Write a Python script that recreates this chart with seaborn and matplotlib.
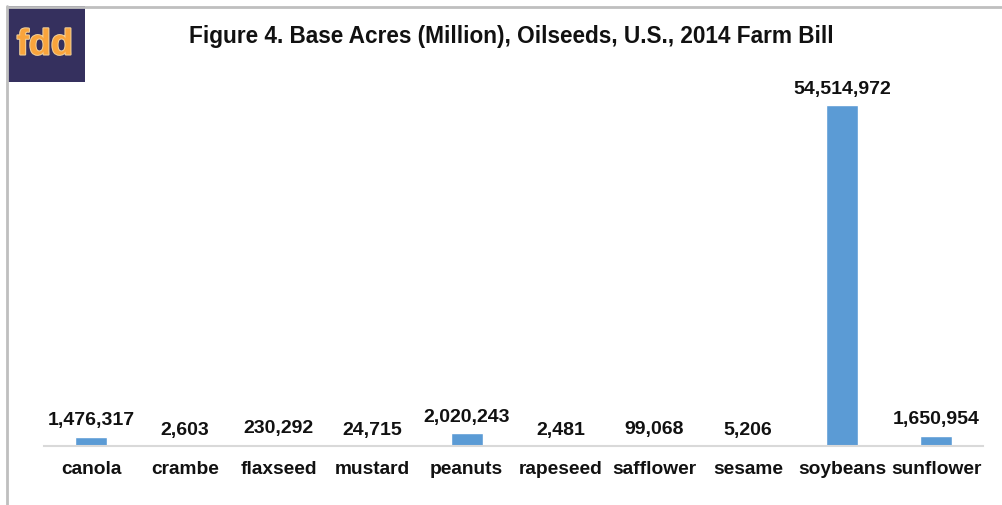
import numpy as np
import pandas as pd
import matplotlib
matplotlib.use("Agg")
import matplotlib.pyplot as plt
import matplotlib.patheffects as pe
from matplotlib.patches import Rectangle
from matplotlib.lines import Line2D
import seaborn as sns

# data
crops = ["canola", "crambe", "flaxseed", "mustard", "peanuts",
         "rapeseed", "safflower", "sesame", "soybeans", "sunflower"]
acres = [1476317, 2603, 230292, 24715, 2020243,
         2481, 99068, 5206, 54514972, 1650954]

df = pd.DataFrame({"crop": crops, "acres": acres})

sns.set_style("white")
plt.rcParams['font.family'] = ['Liberation Sans', 'DejaVu Sans']

fig = plt.figure(figsize=(10.03, 5.06), dpi=100)
ax = fig.add_axes([44 / 1003, 1 - 447 / 506, (983 - 44) / 1003, (447 - 80) / 506])

sns.barplot(data=df, x="crop", y="acres", color="#5B9BD5", width=0.34,
            saturation=1, ax=ax)

ax.set_ylim(0, 54514972 * (447 - 80) / 341)
ax.set_xlim(-0.5, len(crops) - 0.5)

# value labels above bars
for i, v in enumerate(acres):
    ax.annotate(f"{v:,}", (i, v), xytext=(0, 6), textcoords="offset points",
                ha="center", va="bottom", fontsize=14, fontweight="bold",
                color="#111111")

ax.set_xlabel("")
ax.set_ylabel("")
ax.set_yticks([])
ax.tick_params(axis="x", length=0, pad=10)
for lbl in ax.get_xticklabels():
    lbl.set_fontsize(13.8)
    lbl.set_fontweight("bold")
    lbl.set_color("#111111")
for s in ["top", "right", "left"]:
    ax.spines[s].set_visible(False)
ax.spines["bottom"].set_color("#d9d9d9")
ax.spines["bottom"].set_linewidth(1.5)

# title
fig.text(511 / 1003, 1 - 37 / 506, "Figure 4. Base Acres (Million), Oilseeds, U.S., 2014 Farm Bill",
         ha="center", va="center", fontsize=16.3, fontweight="bold", color="#111111")

# frame lines
fig.add_artist(Line2D([7.5 / 1003, 7.5 / 1003], [0, 1 - 7 / 506],
                      transform=fig.transFigure, color="#bfbfbf", lw=2))
fig.add_artist(Line2D([7 / 1003, 1002 / 1003], [1 - 7.5 / 506, 1 - 7.5 / 506],
                      transform=fig.transFigure, color="#bfbfbf", lw=2))

# logo
fig.add_artist(Rectangle((7 / 1003, 1 - 83 / 506), 78 / 1003, 76 / 506,
                         transform=fig.transFigure, facecolor="#35305E",
                         edgecolor="none"))
fig.text(45 / 1003, 1 - 46 / 506, "fdd", ha="center", va="center",
         fontsize=26, fontweight="bold", color="#F9A43C",
         path_effects=[pe.withStroke(linewidth=1.5, foreground="#f0cf98")])

fig.savefig("out.png", dpi=100)
